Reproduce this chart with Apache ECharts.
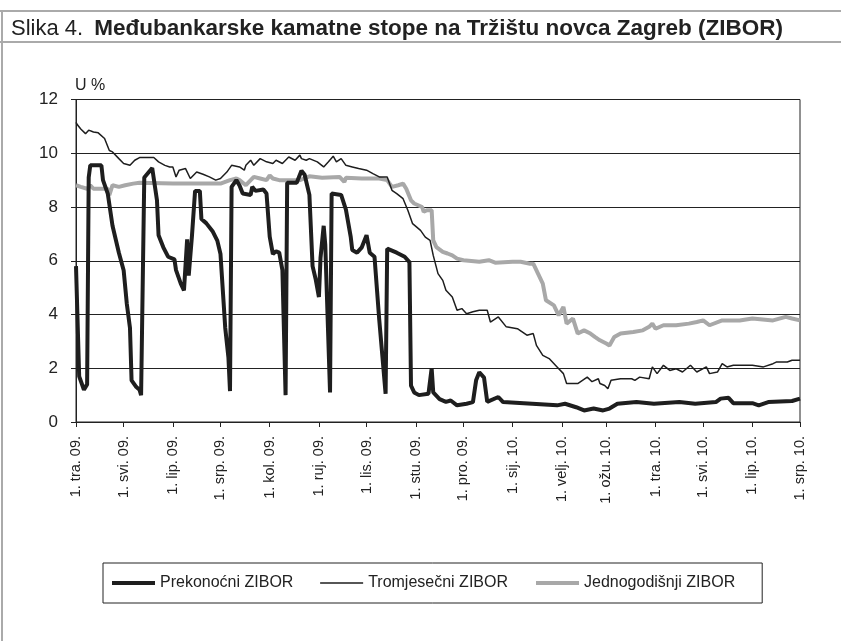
<!DOCTYPE html>
<html>
<head>
<meta charset="utf-8">
<script src="https://cdn.jsdelivr.net/npm/echarts@6/dist/echarts.min.js"></script>
<style>
  html, body { margin: 0; padding: 0; background: #fff; }
  #chart { width: 841px; height: 641px; }
</style>
</head>
<body>
<div id="chart"></div>
<script>
// x = days since 1. tra. 2009 (1 Apr 2009), y = rate in %
const startDate = '2009-04-01'
const dayCount = 457

const tickLabels = ['1. tra. 09.', '1. svi. 09.', '1. lip. 09.', '1. srp. 09.', '1. kol. 09.', '1. ruj. 09.',
  '1. lis. 09.', '1. stu. 09.', '1. pro. 09.', '1. sij. 10.', '1. velj. 10.', '1. ožu. 10.',
  '1. tra. 10.', '1. svi. 10.', '1. lip. 10.', '1. srp. 10.']

const seriesNames = ['Prekonoćni ZIBOR', 'Tromjesečni ZIBOR', 'Jednogodišnji ZIBOR']

const overnight = [[0,5.8],[2,1.7],[5,1.2],[7,1.4],[8,9.1],[9,9.55],[16,9.55],[17,9.0],[20,8.5],[23,7.3],
  [27,6.3],[30,5.65],[32,4.4],[34,3.5],[35,1.55],[38,1.3],[40,1.2],[41,1.0],[43,9.1],[48,9.45],[49,9.5],
  [51,8.25],[52,6.95],[55,6.5],[58,6.15],[62,6.05],[63,5.65],[66,5.15],[68,4.9],[69,4.95],[70,6.8],
  [71,5.45],[72,5.45],[73,6.9],[75,8.6],[78,8.6],[79,7.55],[82,7.4],[86,7.1],[89,6.75],[91,6.25],
  [94,3.5],[96,2.4],[97,1.15],[98,8.75],[101,9.0],[103,8.8],[105,8.5],[110,8.45],[111,8.75],[113,8.6],
  [118,8.65],[120,8.5],[122,6.9],[124,6.25],[126,6.35],[128,6.3],[130,5.65],[132,1.0],[133,8.9],
  [139,8.9],[142,9.35],[144,9.2],[147,8.45],[149,5.8],[151,5.3],[153,4.65],[154,6.1],[156,7.3],
  [157,6.6],[160,1.1],[161,8.5],[167,8.45],[170,7.9],[173,6.9],[174,6.4],[177,6.3],[180,6.5],
  [183,6.95],[185,6.3],[188,6.15],[191,3.8],[195,1.05],[196,6.45],[202,6.3],[207,6.15],[210,5.95],
  [211,1.35],[213,1.1],[216,1.0],[222,1.05],[224,2.0],[225,1.1],[229,0.85],[233,0.75],[236,0.8],
  [240,0.62],[246,0.68],[250,0.74],[252,1.55],[254,1.85],[257,1.65],[259,0.75],[266,0.93],[269,0.74],
  [303,0.62],[308,0.68],[315,0.55],[320,0.43],[326,0.5],[332,0.43],[336,0.5],[341,0.68],[353,0.74],
  [364,0.68],[380,0.74],[390,0.68],[403,0.74],[406,0.87],[411,0.9],[414,0.7],[426,0.7],[430,0.62],
  [436,0.74],[451,0.78],[456,0.87]]

const threeMonth = [[0,11.15],[1,11.05],[3,10.9],[6,10.73],[8,10.86],[11,10.79],[14,10.76],[15,10.8],
  [18,10.55],[21,10.1],[23,10.05],[27,9.8],[30,9.62],[34,9.55],[37,9.74],[40,9.84],[49,9.84],[52,9.68],
  [56,9.55],[59,9.49],[61,9.49],[63,9.12],[65,9.37],[69,9.43],[72,9.06],[76,9.3],[80,9.22],[84,9.12],
  [88,9.0],[91,9.06],[95,9.3],[98,9.55],[103,9.49],[106,9.37],[107,9.55],[110,9.74],[112,9.55],
  [116,9.8],[120,9.68],[124,9.62],[126,9.74],[130,9.62],[134,9.86],[138,9.74],[141,9.93],[142,9.8],
  [145,9.74],[147,9.8],[152,9.68],[156,9.49],[159,9.68],[162,9.89],[164,9.68],[167,9.8],[170,9.55],
  [174,9.49],[178,9.43],[183,9.37],[187,9.24],[191,9.12],[196,9.12],[199,8.62],[202,8.5],[206,8.31],
  [209,7.88],[212,7.38],[217,7.13],[220,6.88],[223,6.76],[225,6.2],[228,5.52],[231,5.27],[233,4.9],
  [237,4.65],[240,4.16],[243,4.22],[246,4.03],[250,4.1],[254,4.16],[259,4.16],[261,3.72],[266,3.91],
  [271,3.54],[278,3.47],[284,3.23],[288,3.29],[290,2.85],[294,2.48],[298,2.36],[303,2.05],[307,1.8],
  [309,1.43],[316,1.43],[322,1.67],[325,1.5],[329,1.61],[330,1.43],[333,1.36],[335,1.24],[337,1.55],
  [343,1.61],[350,1.61],[352,1.55],[355,1.67],[361,1.61],[363,2.05],[366,1.8],[370,2.11],[374,1.92],
  [378,1.98],[382,1.86],[387,2.11],[391,1.86],[397,2.05],[399,1.8],[404,1.86],[407,2.17],[410,2.05],
  [414,2.11],[426,2.11],[433,2.05],[439,2.17],[441,2.23],[448,2.23],[451,2.3],[456,2.3]]

const oneYear = [[0,8.81],[3,8.75],[7,8.68],[9,8.81],[11,8.68],[16,8.68],[20,8.68],[21,8.44],[23,8.81],
  [27,8.75],[31,8.81],[36,8.87],[40,8.9],[61,8.87],[82,8.87],[91,8.87],[97,9.0],[101,9.06],[103,9.0],
  [107,8.81],[112,9.12],[116,9.06],[120,9.0],[122,9.18],[124,9.06],[128,9.0],[141,9.0],[147,9.14],
  [155,9.09],[166,9.12],[169,8.93],[170,9.09],[180,9.06],[191,9.06],[196,9.0],[199,8.75],[203,8.81],
  [206,8.87],[208,8.68],[211,8.25],[213,8.13],[218,8.0],[219,7.82],[221,7.88],[224,7.88],[225,6.76],
  [227,6.51],[231,6.33],[234,6.27],[237,6.2],[240,6.08],[244,6.02],[254,5.96],[260,6.02],[264,5.93],
  [275,5.96],[280,5.96],[286,5.89],[288,5.89],[291,5.52],[294,5.15],[296,4.53],[301,4.34],[304,3.97],
  [307,4.28],[309,3.66],[313,3.85],[316,3.29],[320,3.41],[324,3.29],[327,3.16],[330,3.04],[334,2.92],
  [336,2.85],[339,3.16],[343,3.29],[351,3.35],[357,3.41],[361,3.54],[363,3.66],[365,3.47],[370,3.6],
  [378,3.6],[386,3.66],[391,3.72],[395,3.78],[399,3.6],[407,3.78],[418,3.78],[426,3.85],[439,3.78],
  [447,3.91],[451,3.85],[456,3.78]]

// one category per calendar day
const days = []
const d0 = new Date(startDate + 'T00:00:00Z')
for (let i = 0; i < dayCount; i++) {
  const d = new Date(d0.getTime() + i * 86400000)
  days.push(d.toISOString().slice(0, 10))
}
const isMonthStart = (idx, value) => value.slice(8) === '01'
const monthLabel = (value) => {
  const y = +value.slice(0, 4), m = +value.slice(5, 7)
  return tickLabels[(y - 2009) * 12 + m - 4]
}

const chart = echarts.init(document.getElementById('chart'))
const font = 'Liberation Sans, Arial, sans-serif'
const black = '#1e1e1e'
const grey = '#a8a8a8'

chart.setOption({
  animation: false,
  backgroundColor: '#fff',
  textStyle: { fontFamily: font },
  title: {
    left: 6,
    top: 11,
    text: '{a|Slika 4.}{s| }{b|Međubankarske kamatne stope na Tržištu novca Zagreb (ZIBOR)}',
    textStyle: {
      rich: {
        a: { fontFamily: font, fontSize: 22, fontWeight: 'normal', color: '#222', verticalAlign: 'bottom', height: 26 },
        s: { fontSize: 22, width: 11, height: 26 },
        b: { fontFamily: font, fontSize: 22.5, fontWeight: 'bold', color: '#222', verticalAlign: 'bottom', height: 26 }
      }
    }
  },
  graphic: [
    { type: 'line', shape: { x1: 0, y1: 11, x2: 841, y2: 11 }, style: { stroke: '#aaa', lineWidth: 2 } },
    { type: 'line', shape: { x1: 0, y1: 42, x2: 841, y2: 42 }, style: { stroke: '#aaa', lineWidth: 2 } },
    { type: 'line', shape: { x1: 2, y1: 10, x2: 2, y2: 641 }, style: { stroke: '#aaa', lineWidth: 2 } }
  ],
  legend: {
    left: 103,
    top: 563,
    data: [
      { name: seriesNames[0], lineStyle: { width: 4, color: black } },
      { name: seriesNames[1], lineStyle: { width: 1.5, color: black } },
      { name: seriesNames[2], lineStyle: { width: 4, color: grey } }
    ],
    borderColor: '#222',
    borderWidth: 1,
    padding: [12, 27, 12, 7],
    itemGap: 26,
    itemWidth: 43,
    itemHeight: 14,
    itemStyle: { opacity: 0 },
    textStyle: { fontFamily: font, fontSize: 16, color: '#222' }
  },
  grid: {
    left: 76,
    right: 41,
    top: 99.5,
    bottom: 219,
    show: true,
    borderColor: '#222',
    borderWidth: 1
  },
  xAxis: {
    type: 'category',
    data: days,
    boundaryGap: false,
    axisLine: { lineStyle: { color: '#222' } },
    axisTick: { interval: isMonthStart, length: 5, lineStyle: { color: '#222' } },
    axisLabel: {
      interval: isMonthStart,
      rotate: 90,
      margin: 14,
      fontSize: 14.5,
      color: '#222',
      formatter: monthLabel
    },
    splitLine: { show: false }
  },
  yAxis: {
    type: 'value',
    min: 0,
    max: 12,
    interval: 2,
    name: 'U %',
    nameLocation: 'end',
    nameGap: 6,
    nameTextStyle: { fontSize: 16, color: '#222', align: 'left', padding: [0, 0, 0, -1] },
    axisLine: { show: true, lineStyle: { color: '#222' } },
    axisTick: { show: true, length: 5, lineStyle: { color: '#222' } },
    axisLabel: { fontSize: 17, color: '#222', margin: 18 },
    splitLine: { lineStyle: { color: '#222', width: 1 } }
  },
  series: [
    {
      name: seriesNames[0], type: 'line', data: overnight, symbol: 'none', z: 4,
      lineStyle: { color: black, width: 4 }, itemStyle: { color: black }
    },
    {
      name: seriesNames[1], type: 'line', data: threeMonth, symbol: 'none', z: 3,
      lineStyle: { color: black, width: 1.5 }, itemStyle: { color: black }
    },
    {
      name: seriesNames[2], type: 'line', data: oneYear, symbol: 'none', z: 2,
      lineStyle: { color: grey, width: 4 }, itemStyle: { color: grey }
    }
  ]
})
</script>
</body>
</html>
